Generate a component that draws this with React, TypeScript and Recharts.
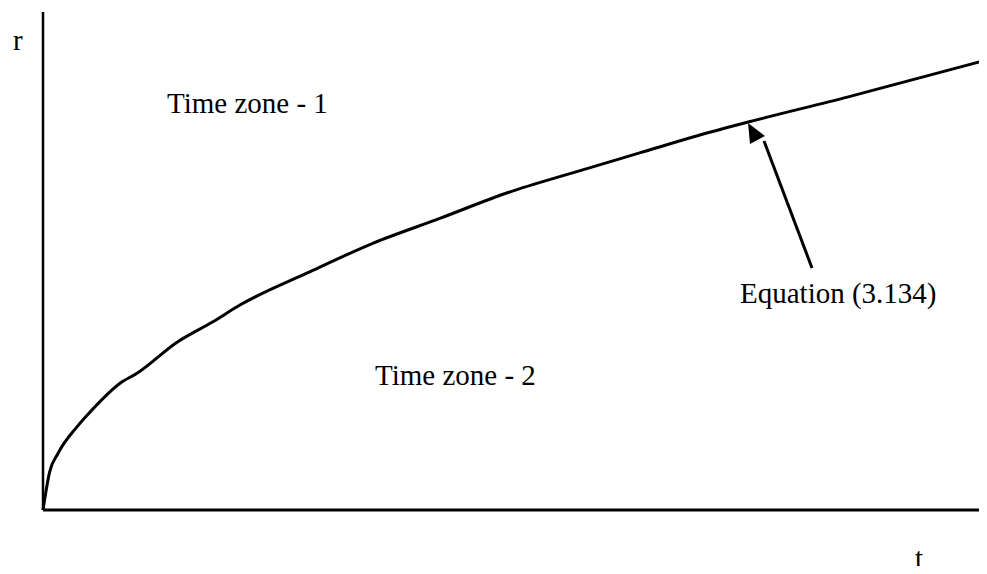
import { Customized, Line, LineChart, XAxis, YAxis } from "recharts";

// curve (t and r in 0..100 of the axis span)
const tValues = [0, 0.7, 1.6, 3.6, 5.0, 8.2, 10.0, 14.2, 18.0, 20.9, 28.0, 35.0, 42.1, 49.2, 56.1, 63.2, 69.6, 74.7, 85.2, 100];
const rValues = [0, 7.6, 11.4, 16.7, 19.7, 25.5, 27.5, 33.7, 37.8, 41.2, 47.6, 53.6, 58.6, 63.7, 67.7, 71.7, 75.3, 77.9, 82.9, 90.4];

const zoneLabels = ["Time zone - 1", "Time zone - 2"];
const curveLabel = "Equation (3.134)";
const xLabel = "t";
const yLabel = "r";

const curve = tValues.map((t, i) => ({ t, r: rValues[i] }));

const font = '"Liberation Serif", "Times New Roman", serif';

const Annotations = () => (
  <g fontFamily={font} fontSize={29} fill="#000">
    <text x={13} y={50}>{yLabel}</text>
    <text x={915} y={568}>{xLabel}</text>
    <text x={167} y={113}>{zoneLabels[0]}</text>
    <text x={375} y={385}>{zoneLabels[1]}</text>
    <text x={740} y={303}>{curveLabel}</text>
    <line x1={812} y1={268} x2={764} y2={141} stroke="#000" strokeWidth={3} />
    <polygon points="748,123 765,136 750,144" fill="#000" />
  </g>
);

export default function App() {
  return (
    <div style={{ width: 987, height: 574, margin: -8, background: "#fff" }}>
      <LineChart width={987} height={574} data={curve} margin={{ top: 12, right: 0, bottom: 0, left: 0 }}>
        <XAxis
          type="number"
          dataKey="t"
          domain={[0, 100]}
          tick={false}
          tickLine={false}
          height={64}
          axisLine={{ stroke: "#000", strokeWidth: 3 }}
        />
        <YAxis
          type="number"
          domain={[0, 100]}
          tick={false}
          tickLine={false}
          width={43}
          axisLine={{ stroke: "#000", strokeWidth: 2.5 }}
        />
        <Line
          type="monotone"
          dataKey="r"
          stroke="#000"
          strokeWidth={3}
          dot={false}
          isAnimationActive={false}
        />
        <Customized component={Annotations} />
      </LineChart>
    </div>
  );
}
